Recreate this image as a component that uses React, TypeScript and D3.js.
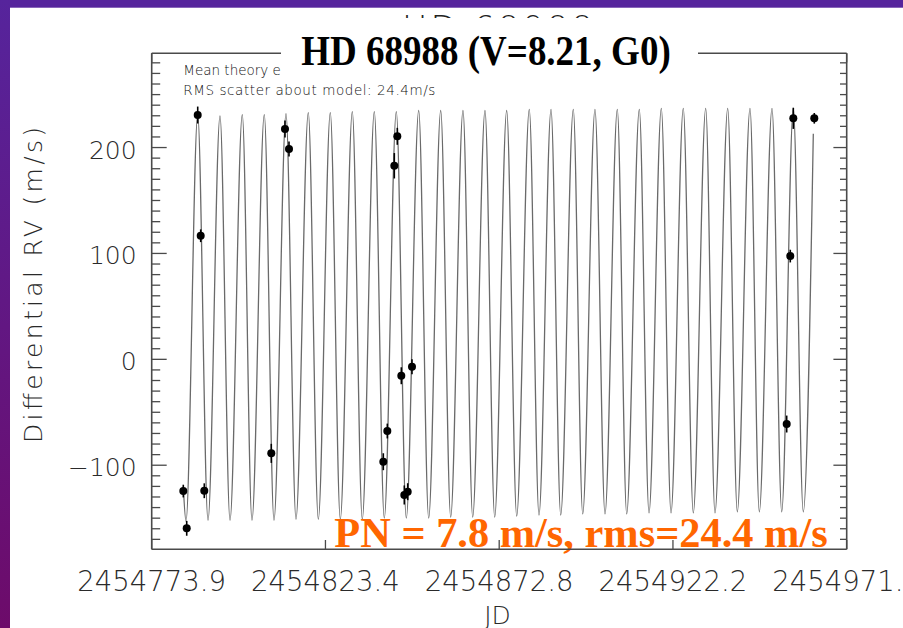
import React from 'react';
import * as d3 from 'd3';

const W = 903;
const H = 628;
const JD0 = 2454000;

// Axis domains and tick labels
const xDomain = [2454773.94, 2454971.66];
const yDomain = [-179.4, 289];
const xTickLabels = ['2454773.9', '2454823.4', '2454872.8', '2454922.2', '2454971.6'];
const yMajorTicks = [-100, 0, 100, 200];
const yTickLabels = ['\u2212100', '0', '100', '200'];

// Model curve: end points and extrema (JD - 2454000, RV m/s)
const modelEndsJD = [782.93, 962.16];
const modelEndsRV = [-120, 213];
const peakJD = [787.03, 793.37, 799.71, 805.97, 812.15, 818.49, 824.75, 831.01, 837.27, 843.53, 849.9, 856.16, 862.5, 868.76, 874.93, 881.36, 887.54, 893.88, 900.05, 906.4, 912.66, 918.92, 925.17, 931.55, 937.81, 944.15, 950.41, 956.47];
const peakRV = [231, 230, 231, 231, 232, 233, 233, 234, 234, 234, 235, 235, 235, 235, 235, 236, 236, 236, 236, 236, 236, 237, 237, 237, 237, 237, 237, 237];
const troughJD = [783.7, 789.96, 796.22, 802.47, 808.73, 814.99, 821.34, 827.6, 833.85, 840.11, 846.37, 852.74, 859.0, 865.26, 871.52, 877.78, 884.12, 890.3, 896.56, 902.9, 909.07, 915.42, 921.68, 928.02, 934.19, 940.54, 946.8, 953.17, 959.31];
const troughRV = [-153, -152, -152, -152, -152, -151, -151, -151, -151, -150, -150, -150, -149, -149, -149, -148, -147, -147, -146, -146, -146, -145, -145, -145, -145, -144, -144, -144, -144];

// Observations (JD - 2454000, RV m/s, error m/s)
const obsJD = [782.93, 783.9, 787.03, 787.88, 788.9, 807.96, 811.86, 813.0, 839.83, 840.97, 842.96, 843.81, 844.95, 845.8, 846.77, 847.99, 954.59, 955.61, 956.47, 962.44];
const obsRV = [-124.4, -159.6, 230.7, 116.7, -124.1, -88.8, 217.5, 198.6, -96.7, -67.7, 182.8, 210.6, -15.5, -128.1, -125.0, -7.0, -61.1, 97.5, 227.6, 227.6];
const obsErr = [6, 7, 8, 6, 7, 9, 8, 7, 8, 7, 12, 8, 8, 9, 8, 7, 8, 6, 10, 5];

const infoLine1 = 'Mean theory e';
const infoLine2 = 'RMS scatter about model: 24.4m/s';
const titleText = 'HD 68988 (V=8.21, G0)';
const idlTitle = 'HD 68988';
const noteText = 'PN = 7.8 m/s, rms=24.4 m/s';

const L = 151.7, R = 846.7, T = 53.3, B = 549.3;
const LABEL_FONT = "'DejaVu Sans', sans-serif";
const SERIF = "'Liberation Serif', 'Times New Roman', serif";

export default function App() {
  const x = d3.scaleLinear().domain(xDomain).range([L, R]);
  const y = d3.scaleLinear().domain(yDomain).range([B, T]);

  const xTicks = d3.range(xTickLabels.length).map(
    (i) => xDomain[0] + (i * (xDomain[1] - xDomain[0])) / (xTickLabels.length - 1)
  );
  const yMinor = d3.range(-170, 290, 10).filter((v) => !yMajorTicks.includes(v));

  const modelPts = [
    ...modelEndsJD.map((jd, i) => ({ jd, rv: modelEndsRV[i] })),
    ...peakJD.map((jd, i) => ({ jd, rv: peakRV[i] })),
    ...troughJD.map((jd, i) => ({ jd, rv: troughRV[i] })),
  ].sort((a, b) => a.jd - b.jd);

  const line = d3
    .line<{ jd: number; rv: number }>()
    .x((d) => x(d.jd + JD0))
    .y((d) => y(d.rv))
    .curve(d3.curveMonotoneX);

  const axisColor = '#4a4a4a';
  const labelColor = '#2a2a2a';

  return (
    <svg
      width={W}
      height={H}
      style={{ position: 'fixed', left: 0, top: 0, background: '#fff' }}
    >
      <defs>
        <linearGradient id="leftBand" x1="0" y1="0" x2="0" y2="1">
          <stop offset="0" stopColor="#56249c" />
          <stop offset="1" stopColor="#6d0b6a" />
        </linearGradient>
        <clipPath id="fragClip">
          <rect x={0} y={15} width={W} height={3} />
        </clipPath>
        <clipPath id="plotClip">
          <rect x={L} y={T} width={R - L} height={B - T} />
        </clipPath>
      </defs>

      <rect x={0} y={0} width={W} height={H} fill="#fff" />

      {/* faint fragment of the original IDL title */}
      <text
        x={497.5}
        y={39.8}
        textAnchor="middle"
        fontFamily={LABEL_FONT}
        fontWeight={200}
        fontSize={34}
        textLength={191}
        lengthAdjust="spacing"
        fill="#222"
        clipPath="url(#fragClip)"
      >
        {idlTitle}
      </text>

      {/* model curve */}
      <path
        d={line(modelPts) || ''}
        fill="none"
        stroke="#6a6a6a"
        strokeWidth={1.3}
        clipPath="url(#plotClip)"
      />

      {/* error bars and points */}
      {obsJD.map((jd, i) => (
        <g key={i}>
          <line
            x1={x(jd + JD0)}
            x2={x(jd + JD0)}
            y1={y(obsRV[i] - obsErr[i])}
            y2={y(obsRV[i] + obsErr[i])}
            stroke="#000"
            strokeWidth={1.6}
          />
          <circle cx={x(jd + JD0)} cy={y(obsRV[i])} r={4} fill="#000" />
        </g>
      ))}

      {/* info text */}
      <text
        x={183.3}
        y={75}
        fontFamily={LABEL_FONT}
        fontWeight={200}
        fontSize={13.5}
        fill="#111"
      >
        {infoLine1}
      </text>
      <text
        x={183.3}
        y={95}
        fontFamily={LABEL_FONT}
        fontWeight={200}
        fontSize={13.5}
        textLength={252}
        lengthAdjust="spacing"
        fill="#111"
      >
        {infoLine2}
      </text>

      {/* orange note */}
      <text
        x={334.3}
        y={547.3}
        fontFamily={SERIF}
        fontWeight="bold"
        fontSize={42.4}
        fill="#ff6600"
      >
        {noteText}
      </text>

      {/* axes frame */}
      <g stroke={axisColor} strokeWidth={1.6} fill="none">
        <line x1={L} x2={L} y1={T} y2={B} />
        <line x1={R} x2={R} y1={T} y2={B} />
        <line x1={L} x2={R} y1={B} y2={B} />
        <line x1={L} x2={R} y1={T} y2={T} />
      </g>

      {/* ticks */}
      <g stroke={axisColor} strokeWidth={1.3}>
        {yMajorTicks.map((v) => (
          <g key={'M' + v}>
            <line x1={L} x2={L + 15} y1={y(v)} y2={y(v)} />
            <line x1={R} x2={R - 13.3} y1={y(v)} y2={y(v)} />
          </g>
        ))}
        {yMinor.map((v) => (
          <g key={'m' + v}>
            <line x1={L} x2={L + 8.5} y1={y(v)} y2={y(v)} />
            <line x1={R} x2={R - 6.7} y1={y(v)} y2={y(v)} />
          </g>
        ))}
        {xTicks.map((v, i) => (
          <g key={'x' + i}>
            <line x1={x(v)} x2={x(v)} y1={B} y2={B - 9.3} />
            <line x1={x(v)} x2={x(v)} y1={T} y2={T + 9.3} />
          </g>
        ))}
      </g>

      {/* y tick labels */}
      {yMajorTicks.map((v, i) => (
        <text
          key={'yl' + v}
          x={136.7}
          y={y(v) + 11}
          textAnchor="end"
          fontFamily={LABEL_FONT}
          fontWeight={200}
          fontSize={25}
          fill={labelColor}
        >
          {yTickLabels[i]}
        </text>
      ))}

      {/* x tick labels */}
      {xTicks.map((v, i) => (
        <text
          key={'xl' + i}
          x={x(v)}
          y={590.7}
          textAnchor="middle"
          fontFamily={LABEL_FONT}
          fontWeight={200}
          fontSize={27.5}
          fill={labelColor}
        >
          {xTickLabels[i]}
        </text>
      ))}

      {/* axis titles */}
      <text
        x={497.5}
        y={623.5}
        textAnchor="middle"
        fontFamily={LABEL_FONT}
        fontWeight={200}
        fontSize={25}
        fill={labelColor}
      >
        JD
      </text>
      <text
        transform="translate(41.7,285) rotate(-90)"
        textAnchor="middle"
        fontFamily={LABEL_FONT}
        fontWeight={200}
        fontSize={25}
        textLength={316}
        lengthAdjust="spacing"
        fill={labelColor}
      >
        Differential RV (m/s)
      </text>

      {/* title box */}
      <rect x={281} y={18} width={417} height={64} fill="#fff" />
      <text
        transform="translate(486,65) scale(1,1.13)"
        textAnchor="middle"
        fontFamily={SERIF}
        fontWeight="bold"
        fontSize={37}
        fill="#000"
      >
        {titleText}
      </text>

      {/* purple slide border */}
      <rect x={0} y={0} width={W} height={7.7} fill="#56249c" />
      <rect x={0} y={0} width={10} height={H} fill="url(#leftBand)" />
    </svg>
  );
}
